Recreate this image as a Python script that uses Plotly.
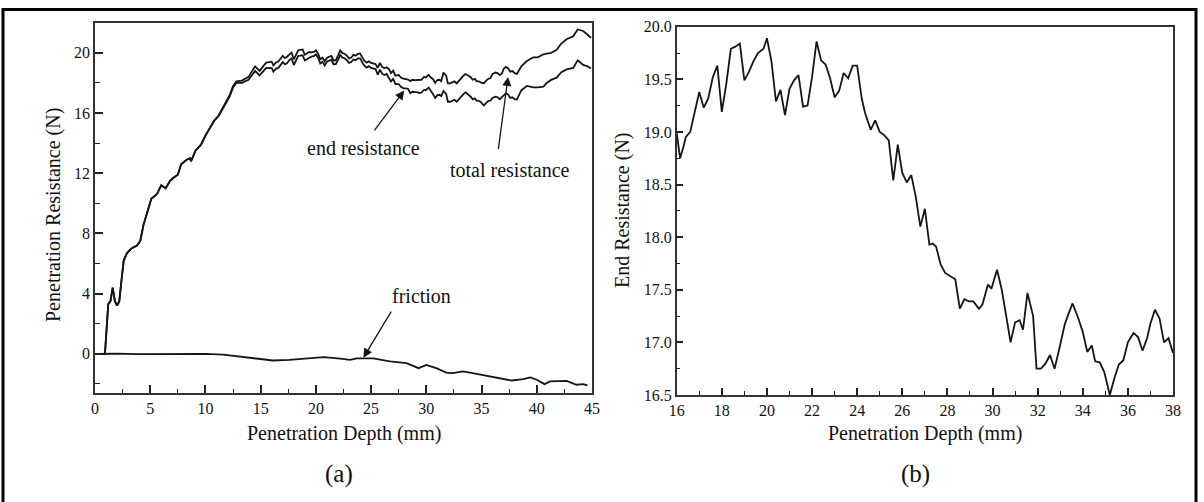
import plotly.graph_objects as go

# ---------------- data ----------------
# (a) left panel
early_depth = [0, 0.5, 0.9, 1.2, 1.4, 1.6, 1.8, 2.0, 2.2, 2.4, 2.6, 2.9, 3.3, 3.8, 4.1, 4.4, 4.7,
               5.1, 5.6, 6.0, 6.4, 6.8, 7.1, 7.5, 7.8, 8.3, 8.6, 8.7, 9.1, 9.6, 10.0, 10.4, 10.8,
               11.2, 11.5, 11.9, 12.2, 12.5, 12.8, 13.3, 13.9, 14.5, 14.9, 15.5]
early_end = [0, 0, 0, 3.3, 3.5, 4.4, 3.5, 3.2, 3.5, 4.9, 6.2, 6.7, 7.0, 7.2, 7.5, 8.6, 9.3,
             10.3, 10.6, 11.2, 11.0, 11.5, 11.7, 11.9, 12.6, 12.9, 13.0, 12.8, 13.5, 13.9, 14.5, 15.0, 15.5,
             15.8, 16.2, 16.8, 17.1, 17.7, 18.0, 18.0, 18.2, 18.8, 18.5, 19.0]
early_total = [0, 0, 0, 3.3, 3.5, 4.4, 3.5, 3.2, 3.5, 4.9, 6.2, 6.7, 7.0, 7.2, 7.5, 8.6, 9.3,
               10.3, 10.6, 11.2, 11.0, 11.5, 11.7, 11.9, 12.6, 12.9, 13.0, 12.8, 13.5, 13.9, 14.5, 15.0, 15.5,
               15.85, 16.25, 16.85, 17.2, 17.8, 18.1, 18.15, 18.4, 19.1, 18.8, 19.35]

# (b) right panel: end resistance 16-38 mm (also the middle part of panel (a))
depth_b = [16.0, 16.15, 16.3, 16.4, 16.6, 16.8, 17.0, 17.2, 17.4, 17.6, 17.8, 18.0, 18.2, 18.4, 18.6,
           18.8, 19.0, 19.2, 19.4, 19.6, 19.85, 20.0, 20.2, 20.4, 20.6, 20.8, 21.0, 21.2, 21.4, 21.6,
           21.8, 22.0, 22.2, 22.4, 22.6, 22.8, 23.0, 23.2, 23.4, 23.6, 23.8, 24.0, 24.2, 24.35, 24.6,
           24.8, 25.0, 25.2, 25.4, 25.6, 25.8, 26.0, 26.2, 26.4, 26.6, 26.8, 27.0, 27.2, 27.35, 27.5,
           27.7, 27.9, 28.15, 28.35, 28.55, 28.75, 28.95, 29.15, 29.4, 29.55, 29.8, 29.95, 30.2, 30.4,
           30.6, 30.8, 31.0, 31.2, 31.35, 31.55, 31.8, 31.95, 32.15, 32.35, 32.55, 32.75, 32.95, 33.2,
           33.4, 33.55, 33.8, 34.0, 34.2, 34.4, 34.55, 34.75, 34.95, 35.2, 35.4, 35.6, 35.8, 36.0,
           36.25, 36.45, 36.65, 36.85, 37.0, 37.2, 37.4, 37.6, 37.8, 38.0]
end_b = [18.99, 18.75, 18.86, 18.95, 19.0, 19.2, 19.38, 19.23, 19.32, 19.52, 19.63, 19.19, 19.46, 19.79, 19.81,
         19.84, 19.49, 19.57, 19.67, 19.75, 19.79, 19.89, 19.67, 19.29, 19.4, 19.16, 19.41, 19.49, 19.54, 19.24,
         19.25, 19.52, 19.86, 19.68, 19.64, 19.51, 19.33, 19.39, 19.56, 19.51, 19.63, 19.63, 19.32, 19.18, 19.02,
         19.11, 19.0, 18.97, 18.92, 18.54, 18.88, 18.61, 18.52, 18.59, 18.38, 18.1, 18.27, 17.93, 17.94, 17.91,
         17.74, 17.66, 17.63, 17.6, 17.32, 17.41, 17.39, 17.39, 17.32, 17.36, 17.55, 17.51, 17.69, 17.51,
         17.26, 17.0, 17.19, 17.21, 17.12, 17.47, 17.25, 16.75, 16.75, 16.8, 16.88, 16.75, 16.93, 17.17,
         17.29, 17.37, 17.23, 17.1, 16.91, 16.97, 16.82, 16.81, 16.72, 16.5, 16.66, 16.79, 16.83, 17.0,
         17.09, 17.05, 16.92, 17.04, 17.18, 17.31, 17.23, 17.0, 17.04, 16.9]
total_mid = [19.41, 19.17, 19.28, 19.37, 19.42, 19.62, 19.8, 19.65, 19.74, 19.9, 20.01, 19.57, 19.84, 20.17, 20.19,
             20.22, 19.87, 19.95, 20.05, 20.03, 20.07, 20.17, 19.95, 19.57, 19.68, 19.44, 19.66, 19.74, 19.79, 19.49,
             19.5, 19.82, 20.16, 19.98, 19.94, 19.81, 19.63, 19.69, 19.86, 19.81, 19.93, 19.96, 19.65, 19.51, 19.35,
             19.44, 19.33, 19.3, 19.25, 18.99, 19.33, 19.06, 18.97, 19.04, 18.93, 18.65, 18.82, 18.48, 18.49, 18.53,
             18.36, 18.28, 18.25, 18.22, 18.12, 18.21, 18.19, 18.19, 18.17, 18.21, 18.4, 18.36, 18.54, 18.36,
             18.26, 18.0, 18.19, 18.21, 18.12, 18.69, 18.47, 17.97, 17.97, 18.02, 18.1, 17.97, 18.15, 18.39,
             18.51, 18.59, 18.45, 18.4, 18.21, 18.27, 18.12, 18.11, 18.02, 17.98, 18.14, 18.27, 18.31, 18.6,
             18.69, 18.65, 18.52, 18.64, 18.93, 19.06, 18.98, 18.75, 18.79, 18.65]

late_depth = [38.2, 38.6, 39.1, 39.7, 40.1, 40.6, 40.9, 41.3, 41.8, 42.2, 42.7, 43.0, 43.3, 43.7, 44.2, 44.6, 44.9]
late_end = [16.9, 17.5, 17.8, 17.7, 17.7, 17.75, 18.0, 18.2, 18.35, 18.7, 18.9, 18.95, 19.0, 19.5, 19.2, 19.1, 18.95]
late_total = [18.6, 19.1, 19.45, 19.7, 19.7, 19.9, 19.95, 20.0, 20.2, 20.6, 20.9, 21.0, 21.1, 21.55, 21.45, 21.2, 21.0]

friction_depth = [0, 2, 4, 6, 8, 10, 11.6, 13.1, 14.6, 16.1, 17.6, 19.2, 20.7, 22.2, 23.1, 23.7, 25.2, 26.7,
                  28.2, 29.3, 30.0, 30.9, 31.8, 32.4, 33.3, 34.2, 35.4, 36.6, 37.7, 38.8, 39.4, 40.0, 40.7,
                  41.2, 41.8, 42.7, 43.6, 44.2, 44.6]
friction = [0, 0.02, -0.02, 0.0, 0.01, 0.0, -0.05, -0.18, -0.29, -0.44, -0.4, -0.29, -0.22, -0.31, -0.4, -0.3,
            -0.3, -0.5, -0.62, -0.95, -0.73, -0.95, -1.24, -1.28, -1.17, -1.28, -1.46, -1.61, -1.77, -1.68,
            -1.57, -1.72, -2.01, -1.83, -1.83, -1.79, -2.05, -2.01, -2.1]

depth_a = early_depth + depth_b + late_depth
end_a = early_end + end_b + late_end
total_a = early_total + total_mid + late_total

left_y_ticks = [0, 4, 8, 12, 16, 20]
left_x_ticks = [0, 5, 10, 15, 20, 25, 30, 35, 40, 45]
right_y_ticks = [16.5, 17.0, 17.5, 18.0, 18.5, 19.0, 19.5, 20.0]
right_x_ticks = [16, 18, 20, 22, 24, 26, 28, 30, 32, 34, 36, 38]

# ---------------- layout helpers ----------------
W, H = 1204, 502
ML, MR, MT, MB = 95, 31, 22, 107
PW = W - ML - MR
PH = H - MT - MB


def px_x(px):
    return (px - ML) / PW


def px_y(py):
    return (H - MB - py) / PH


FONT = "Liberation Serif, Times New Roman, serif"
INK = "#151515"
LW = 1.8

fig = go.Figure()
fig.add_trace(go.Scatter(x=depth_a, y=total_a, mode="lines", line=dict(color=INK, width=LW),
                         name="total resistance", xaxis="x", yaxis="y"))
fig.add_trace(go.Scatter(x=depth_a, y=end_a, mode="lines", line=dict(color=INK, width=LW),
                         name="end resistance", xaxis="x", yaxis="y"))
fig.add_trace(go.Scatter(x=friction_depth, y=friction, mode="lines", line=dict(color=INK, width=LW),
                         name="friction", xaxis="x", yaxis="y"))
fig.add_trace(go.Scatter(x=depth_b, y=end_b, mode="lines", line=dict(color=INK, width=LW),
                         name="end resistance (b)", xaxis="x2", yaxis="y2"))

axis_common = dict(showgrid=False, zeroline=False, showline=True, linecolor="#333", linewidth=1.5,
                   mirror=True, ticks="inside", tickcolor="#222", tickwidth=1.5,
                   tickfont=dict(family=FONT, size=16, color="#111"))

fig.update_layout(
    width=W, height=H, margin=dict(l=ML, r=MR, t=MT, b=MB),
    paper_bgcolor="white", plot_bgcolor="white", showlegend=False,
    xaxis=dict(domain=[0, px_x(592)], range=[0, 45], tickvals=left_x_ticks, ticklen=8,
               minor=dict(dtick=2.5, tick0=0, ticks="inside", ticklen=4, tickcolor="#222", tickwidth=1.3),
               anchor="y", **axis_common),
    yaxis=dict(domain=[px_y(393), px_y(22.7)], range=[-2.6, 22.0], tickvals=left_y_ticks, ticklen=8,
               minor=dict(dtick=2, tick0=0, ticks="inside", ticklen=5, tickcolor="#222", tickwidth=1.3),
               anchor="x", **axis_common),
    xaxis2=dict(domain=[px_x(676.7), 1], range=[16, 38], tickvals=right_x_ticks, ticklen=7,
                minor=dict(dtick=1, tick0=16, ticks="inside", ticklen=4, tickcolor="#222", tickwidth=1.3),
                anchor="y2", **axis_common),
    yaxis2=dict(domain=[0, px_y(26.7)], range=[16.5, 20.0], tickvals=right_y_ticks, tickformat=".1f",
                ticklen=7,
                minor=dict(dtick=0.25, tick0=16.5, ticks="inside", ticklen=4, tickcolor="#222", tickwidth=1.3),
                anchor="x2", **axis_common),
)

ann = []
title_font = dict(family=FONT, size=20, color="#111")
# axis titles
ann.append(dict(text="Penetration Depth (mm)", x=px_x(343.5), y=px_y(433), xref="paper", yref="paper",
                showarrow=False, font=title_font, xanchor="center", yanchor="middle"))
ann.append(dict(text="Penetration Depth (mm)", x=px_x(925), y=px_y(433), xref="paper", yref="paper",
                showarrow=False, font=title_font, xanchor="center", yanchor="middle"))
ann.append(dict(text="Penetration Resistance (N)", x=px_x(53), y=px_y(215), xref="paper", yref="paper",
                showarrow=False, font=title_font, textangle=-90, xanchor="center", yanchor="middle"))
ann.append(dict(text="End Resistance (N)", x=px_x(622), y=px_y(210), xref="paper", yref="paper",
                showarrow=False, font=title_font, textangle=-90, xanchor="center", yanchor="middle"))
# panel labels
ann.append(dict(text="(a)", x=px_x(339), y=px_y(474), xref="paper", yref="paper",
                showarrow=False, font=dict(family=FONT, size=25, color="#111"),
                xanchor="center", yanchor="middle"))
ann.append(dict(text="(b)", x=px_x(915), y=px_y(474), xref="paper", yref="paper",
                showarrow=False, font=dict(family=FONT, size=25, color="#111"),
                xanchor="center", yanchor="middle"))
# curve labels
ann.append(dict(text="end resistance", x=24.3, y=13.65, xref="x", yref="y", showarrow=False, font=title_font))
ann.append(dict(text="total resistance", x=37.6, y=12.2, xref="x", yref="y", showarrow=False, font=title_font))
ann.append(dict(text="friction", x=29.6, y=3.85, xref="x", yref="y", showarrow=False, font=title_font))
# arrows
for (hx, hy, tx, ty) in [(28.0, 17.5, 25.2, 14.75), (37.4, 18.4, 36.5, 13.5), (24.3, -0.25, 26.9, 2.9)]:
    ann.append(dict(text="", x=hx, y=hy, ax=tx, ay=ty, xref="x", yref="y", axref="x", ayref="y",
                    showarrow=True, arrowhead=2, arrowsize=1.4, arrowwidth=1.3, arrowcolor=INK, standoff=0))
fig.update_layout(annotations=ann)

# outer frame of the figure
fig.add_shape(type="rect", xref="paper", yref="paper",
              x0=px_x(3), x1=px_x(1196), y0=px_y(506), y1=px_y(9.5),
              line=dict(color="#000", width=3), fillcolor="rgba(0,0,0,0)", layer="above")

fig.write_html("out.html")
